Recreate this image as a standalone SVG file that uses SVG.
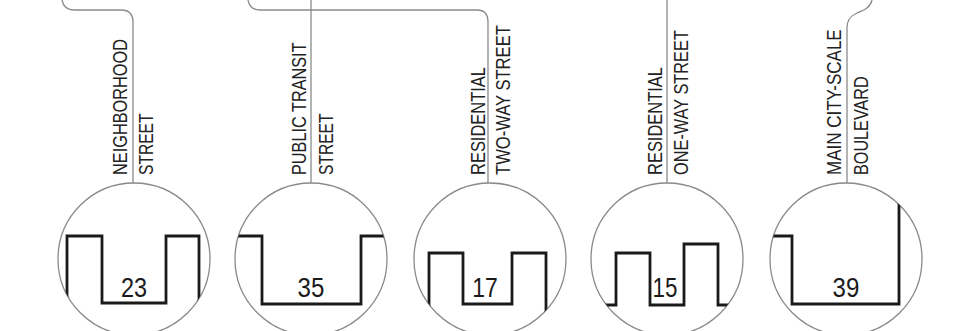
<svg xmlns="http://www.w3.org/2000/svg" width="954" height="331" viewBox="0 0 954 331">
<style>
.lead{fill:none;stroke:#8a8a8a;stroke-width:1.3}
.ring{fill:none;stroke:#8a8a8a;stroke-width:1.3}
.wave{fill:none;stroke:#1a1a1a;stroke-width:2.8;stroke-linejoin:miter;stroke-linecap:butt}
.lbl{font-family:"Liberation Sans",Arial,sans-serif;font-size:20px;fill:#222}
.num{font-family:"Liberation Sans",Arial,sans-serif;font-size:28px;fill:#1a1a1a;text-anchor:middle}
</style>
<defs>
<clipPath id="c1"><circle cx="134" cy="259" r="76"/></clipPath>
<clipPath id="c2"><circle cx="311" cy="259" r="76"/></clipPath>
<clipPath id="c3"><circle cx="490" cy="259" r="76"/></clipPath>
<clipPath id="c4"><circle cx="667" cy="259" r="76"/></clipPath>
<clipPath id="c5"><circle cx="846" cy="259" r="76"/></clipPath>
</defs>
<rect width="954" height="331" fill="#ffffff"/>
<g id="connectors">
<path class="lead" d="M62,0 Q64,10 74,10 H121 Q133,10 133,22 V183"/>
<path class="lead" d="M248,0 Q250,10 260,10 H477 Q488,10 488,22 V183"/>
<path class="lead" d="M311,0 V183"/>
<path class="lead" d="M667,0 V183"/>
<path class="lead" d="M872,0 C870,8 864,10 857,13 C850,16 847,20 847,28 V183"/>
</g>
<g id="neighborhood-street">
<text class="lbl" transform="translate(127,175) rotate(-90) scale(0.816,1)">NEIGHBORHOOD</text>
<text class="lbl" transform="translate(153,175) rotate(-90) scale(0.78,1)">STREET</text>
<circle class="ring" cx="134" cy="259" r="76"/>
<path class="wave" clip-path="url(#c1)" d="M67,330 V236 H102 V303 H166 V236 H199 V330"/>
<text class="num" transform="translate(134,297) scale(0.84,1)">23</text>
</g>
<g id="public-transit-street">
<text class="lbl" transform="translate(306,175) rotate(-90) scale(0.814,1)">PUBLIC TRANSIT</text>
<text class="lbl" transform="translate(333,175) rotate(-90) scale(0.78,1)">STREET</text>
<circle class="ring" cx="311" cy="259" r="76"/>
<path class="wave" clip-path="url(#c2)" d="M200,236 H262 V304 H361 V236 H420"/>
<text class="num" transform="translate(311,297) scale(0.86,1)">35</text>
</g>
<g id="residential-two-way">
<text class="lbl" transform="translate(485,175) rotate(-90) scale(0.824,1)">RESIDENTIAL</text>
<text class="lbl" transform="translate(510,175) rotate(-90) scale(0.83,1)">TWO-WAY STREET</text>
<circle class="ring" cx="490" cy="259" r="76"/>
<path class="wave" clip-path="url(#c3)" d="M429,330 V253 H463 V304 H512 V253 H546 V330"/>
<text class="num" transform="translate(485,297) scale(0.82,1)">17</text>
</g>
<g id="residential-one-way">
<text class="lbl" transform="translate(662,175) rotate(-90) scale(0.824,1)">RESIDENTIAL</text>
<text class="lbl" transform="translate(688,175) rotate(-90) scale(0.817,1)">ONE-WAY STREET</text>
<circle class="ring" cx="667" cy="259" r="76"/>
<path class="wave" clip-path="url(#c4)" d="M585,305 H616 V253 H650 V305 H684 V244 H718 V305 H750"/>
<text class="num" transform="translate(665,297) scale(0.8,1)">15</text>
</g>
<g id="main-boulevard">
<text class="lbl" transform="translate(841,175) rotate(-90) scale(0.85,1)">MAIN CITY-SCALE</text>
<text class="lbl" transform="translate(868,175) rotate(-90) scale(0.81,1)">BOULEVARD</text>
<circle class="ring" cx="846" cy="259" r="76"/>
<path class="wave" clip-path="url(#c5)" d="M760,236 H792 V304 H899 V180"/>
<text class="num" transform="translate(846,297) scale(0.86,1)">39</text>
</g>
</svg>
